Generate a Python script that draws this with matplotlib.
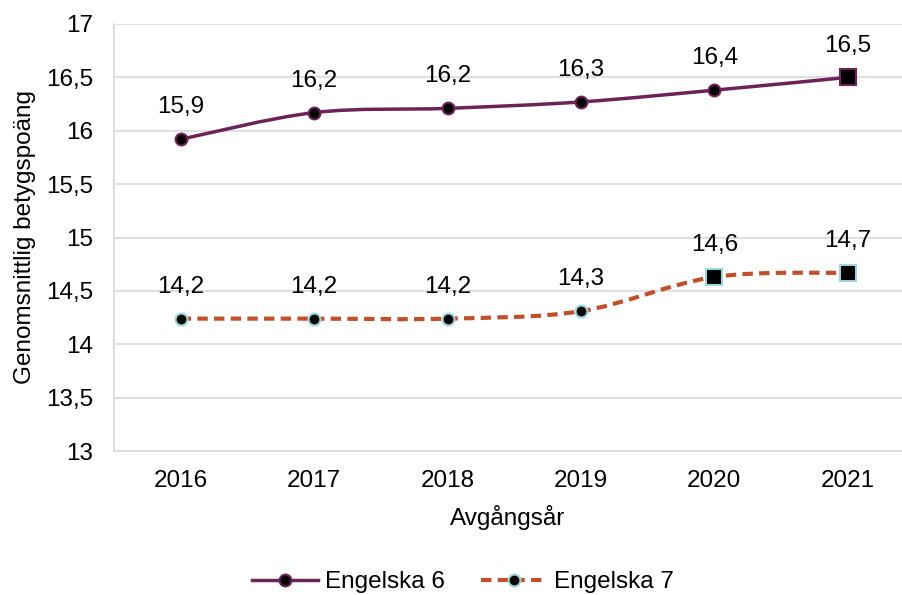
import matplotlib.pyplot as plt
import numpy as np
from matplotlib.path import Path
from matplotlib.patches import PathPatch

plt.rcParams['font.family'] = ['Liberation Sans', 'DejaVu Sans']

years = ['2016', '2017', '2018', '2019', '2020', '2021']
eng6 = [15.92, 16.17, 16.21, 16.27, 16.38, 16.50]
eng7 = [14.24, 14.24, 14.24, 14.31, 14.63, 14.67]
eng6_labels = ['15,9', '16,2', '16,2', '16,3', '16,4', '16,5']
eng7_labels = ['14,2', '14,2', '14,2', '14,3', '14,6', '14,7']

purple = '#6B2358'
orange = '#C0502A'
cyan = '#9DD3D9'
fs = 17.5


def smooth_path(xs, ys):
    # Excel-style smoothed line: Catmull-Rom segments as cubic Beziers
    pts = np.column_stack([xs, ys])
    verts = [pts[0]]
    codes = [Path.MOVETO]
    n = len(pts)
    for i in range(n - 1):
        p0 = pts[max(i - 1, 0)]
        p1 = pts[i]
        p2 = pts[i + 1]
        p3 = pts[min(i + 2, n - 1)]
        c1 = p1 + (p2 - p0) / 6.0
        c2 = p2 - (p3 - p1) / 6.0
        verts += [c1, c2, p2]
        codes += [Path.CURVE4] * 3
    return Path(verts, codes)


fig = plt.figure(figsize=(9.02, 5.95), dpi=100)
ax = fig.add_axes([114 / 902, 1 - 451 / 595, 1 - 114 / 902, (451 - 24) / 595])

x = np.arange(len(years))

ax.add_patch(PathPatch(smooth_path(x, eng6), fill=False, edgecolor=purple, lw=2.5, zorder=3))
ax.add_patch(PathPatch(smooth_path(x, eng7), fill=False, edgecolor=orange, lw=3,
                       linestyle=(0, (2.5, 1.5)), zorder=3))

# markers
ax.plot(x[:-1], eng6[:-1], 'o', ms=8.5, mfc='black', mec=purple, mew=1.5, zorder=4)
ax.plot(x[-1:], eng6[-1:], 's', ms=12, mfc='black', mec=purple, mew=1.5, zorder=4)
ax.plot(x[:4], eng7[:4], 'o', ms=8.5, mfc='black', mec=cyan, mew=1.5, zorder=4)
ax.plot(x[4:], eng7[4:], 's', ms=12, mfc='black', mec=cyan, mew=1.5, zorder=4)

for xi, v, t in zip(x, eng6, eng6_labels):
    ax.annotate(t, (xi, v), xytext=(0, 15), textcoords='offset points',
                ha='center', va='bottom', fontsize=fs, color='black')
for xi, v, t in zip(x, eng7, eng7_labels):
    ax.annotate(t, (xi, v), xytext=(0, 15), textcoords='offset points',
                ha='center', va='bottom', fontsize=fs, color='black')

ax.set_xlim(-0.5, -0.5 + 788 / 133.4)
ax.set_ylim(13, 17)
ax.set_yticks(np.arange(13, 17.01, 0.5))
ax.set_yticklabels([f'{v:g}'.replace('.', ',') for v in np.arange(13, 17.01, 0.5)])
ax.set_xticks(x)
ax.set_xticklabels(years)
ax.tick_params(labelsize=fs, length=0)
ax.tick_params(axis='y', pad=15)
ax.tick_params(axis='x', pad=14)
ax.grid(axis='y', color='#D9D9D9', lw=1.2)
ax.set_axisbelow(True)
for s in ['top', 'right']:
    ax.spines[s].set_visible(False)
ax.spines['left'].set_color('#D9D9D9')
ax.spines['bottom'].set_color('#D9D9D9')
ax.spines['left'].set_linewidth(1.2)
ax.spines['bottom'].set_linewidth(1.2)

ax.set_xlabel('Avgångsår', fontsize=fs, labelpad=9)
ax.set_ylabel('Genomsnittlig betygspoäng', fontsize=fs, labelpad=7)

h1, = ax.plot([], [], '-', color=purple, lw=2.5, marker='o', ms=8.5, mfc='black', mec=purple, mew=1.5)
h2, = ax.plot([], [], '--', color=orange, lw=3, marker='o', ms=8.5, mfc='black', mec=cyan, mew=1.5,
              dashes=(2.5, 1.5))
fig.legend([h1, h2], ['Engelska 6', 'Engelska 7'], loc='center', bbox_to_anchor=(463 / 902, 1 - 582 / 595),
           ncol=2, frameon=False, fontsize=fs, handlelength=2.7, columnspacing=1.5, handletextpad=0.3)

fig.savefig('out.png', dpi=100)
